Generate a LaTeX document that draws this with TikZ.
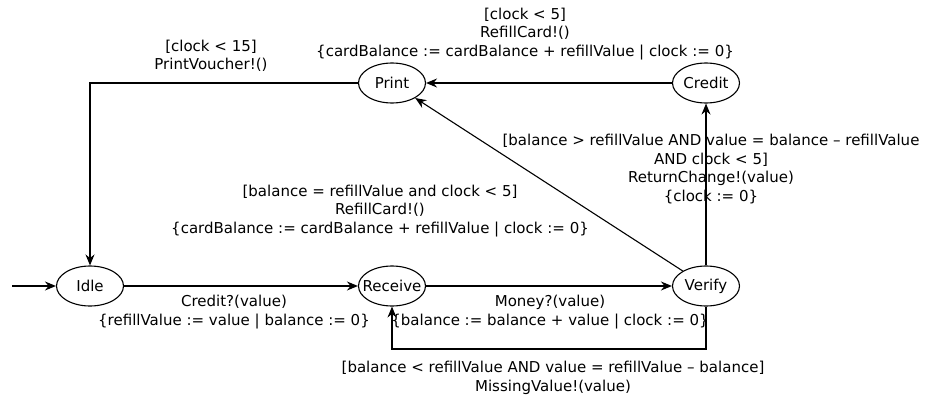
\documentclass[tikz,border=0pt]{standalone}
\usepackage{fontspec}
\setmainfont{DejaVu Sans}
\usetikzlibrary{arrows.meta,shapes.geometric}

\newcommand{\stname}[1]{\makebox[0pt]{#1}}

\begin{document}
\begin{tikzpicture}[x=1pt,y=-1pt,-{Stealth[length=11pt,width=9pt]},line width=1.1pt,
   font=\fontsize{15}{18.4}\selectfont,
   state/.style={draw,ellipse,minimum width=67pt,minimum height=40pt,inner sep=0pt},
   lbl/.style={align=center,inner sep=0pt}]
   \useasboundingbox (0,0) rectangle (928,396);

   % states
   \node[state] (idle) at (90,286) {\stname{Idle}};
   \node[state] (receive) at (392,286) {\stname{Receive}};
   \node[state] (verify) at (706,286) {\stname{Verify}};
   \node[state] (print) at (392,83) {\stname{Print}};
   \node[state] (credit) at (706,83) {\stname{Credit}};
   \coordinate (start) at (12,286);
   \coordinate (loop) at (550,349);

   % transitions
   \draw (start) -- (idle);
   \draw (idle) -- (receive);
   \draw (receive) -- (verify);
   \draw (verify) |- (loop) -| (receive);
   \draw (verify) -- (credit);
   \draw (credit) -- (print);
   \draw (verify) -- (print);
   \draw (print) -| (idle);

   % labels
   \node[lbl] (lpv) at (211,56) {[clock < 15]\\PrintVoucher!()};
   \node[lbl] (lrc) at (525,34) {[clock < 5]\\RefillCard!()\\
      \{cardBalance := cardBalance + refillValue | clock := 0\}};
   \node[lbl] (lrd) at (380,211) {[balance = refillValue and clock < 5]\\RefillCard!()\\
      \{cardBalance := cardBalance + refillValue | clock := 0\}};
   \node[lbl] (lch) at (711,169) {[balance > refillValue AND value = balance -- refillValue\\
      AND clock < 5]\\ReturnChange!(value)\\\{clock := 0\}};
   \node[lbl] (lcr) at (234,312) {Credit?(value)\\\{refillValue := value | balance := 0\}};
   \node[lbl] (lmo) at (550,312) {Money?(value)\\\{balance := balance + value | clock := 0\}};
   \node[lbl] (lmi) at (553,378) {[balance < refillValue AND value = refillValue -- balance]\\
      MissingValue!(value)};
\end{tikzpicture}
\end{document}
